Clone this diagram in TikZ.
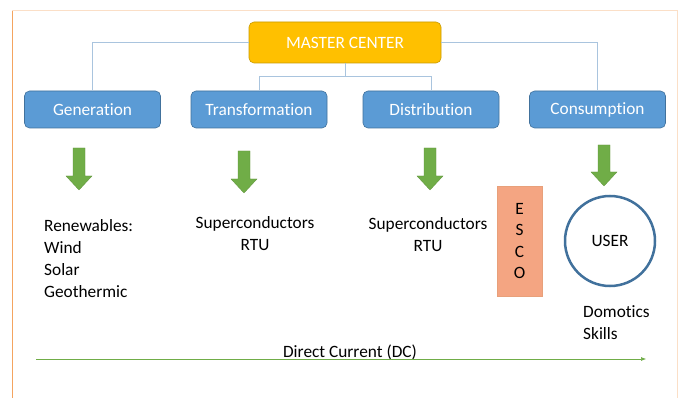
\documentclass[tikz,border=0pt]{standalone}
\usepackage{fontspec}
\setmainfont[Ligatures={NoCommon}]{Carlito}
\usetikzlibrary{arrows.meta}
\definecolor{boxblue}{HTML}{5B9BD5}
\definecolor{boxedge}{HTML}{41719C}
\definecolor{gold}{HTML}{FFC000}
\definecolor{goldedge}{HTML}{C99A00}
\definecolor{agreen}{HTML}{70AD47}
\definecolor{esco}{HTML}{F4A582}
\definecolor{escoedge}{HTML}{E8A07A}
\definecolor{treeline}{HTML}{A9C4DE}
\definecolor{frameor}{HTML}{F4A460}
\tikzset{
  stage/.style={draw=boxedge, fill=boxblue, rounded corners=5pt, minimum width=136pt, minimum height=37pt, text=white, font=\fontsize{17.3}{20}\selectfont, line width=0.6pt},
  master/.style={draw=goldedge, fill=gold, rounded corners=5pt, minimum width=192pt, minimum height=41pt, text=white, font=\fontsize{17.3}{20}\selectfont, line width=0.6pt},
  tree/.style={draw=treeline, line width=0.8pt},
  body/.style={font=\fontsize{17.3}{22}\selectfont, inner sep=0pt},
  blockarrow/.style={fill=agreen, draw=agreen!85!black, line width=0.3pt}
}
\newcommand{\greenarrow}[3]{% x, ytop, ybottom
  \path[blockarrow] (#1-6,#2) -- (#1+6,#2) -- (#1+6,#3-14) -- (#1+13,#3-14) -- (#1,#3) -- (#1-13,#3-14) -- (#1-6,#3-14) -- cycle;}
\begin{document}
\begin{tikzpicture}[x=1pt,y=-1pt]
\useasboundingbox (0,0) rectangle (680,398);
\fill[white] (0,0) rectangle (680,398);
% frame
\draw[frameor, line width=1pt] (12,398) -- (12,10);
\draw[frameor!35, line width=0.6pt] (12,10) -- (677,10) -- (677,398);
% boxes
\node[master] (mc) at (345,42.5) {MASTER CENTER};
\node[stage] (gen) at (92.5,109.5) {Generation};
\node[stage] (tra) at (259,109.5) {Transformation};
\node[stage] (dis) at (431,109.5) {Distribution};
\node[stage] (con) at (597.5,109.5) {Consumption};
% tree lines
\coordinate (mcb) at (345,76);
\draw[tree] (mc.west) -| (gen.north);
\draw[tree] (mc.east) -| (con.north);
\draw[tree] (mc.south) -- (mcb);
\draw[tree] (mcb) -| (tra.north);
\draw[tree] (mcb) -| (dis.north);
% green arrows
\greenarrow{79}{148}{190}
\greenarrow{244}{151}{193}
\greenarrow{430}{148}{190}
\greenarrow{604}{145}{186}
% texts
\node[body, anchor=north west, align=left] (ren) at (44,219) {Renewables:\\Wind\\Solar\\Geothermic};
\node[body, anchor=north, align=center] (sup1) at (255,216) {Superconductors\\RTU};
\node[body, anchor=north, align=center] (sup2) at (428,217) {Superconductors\\RTU};
\node[draw=escoedge, fill=esco, minimum width=45pt, minimum height=110pt, inner sep=0pt, font=\fontsize{17.3}{21.3}\selectfont, align=center] (esc) at (519.5,241) {E\\S\\C\\O};
\node[circle, draw=boxedge, line width=2.5pt, minimum size=90pt, inner sep=0pt, font=\fontsize{17.3}{20}\selectfont] (user) at (610,241) {USER};
\node[body, anchor=north west, align=left] (dom) at (583,305) {Domotics\\Skills};
\node[body, anchor=base] (dc) at (350,357) {Direct Current (DC)};
\coordinate (dcs) at (36,359);
\coordinate (dce) at (646,359);
\draw[agreen, line width=0.6pt, -{Latex[length=5pt,width=4pt]}] (dcs) -- (dce);
\end{tikzpicture}
\end{document}
